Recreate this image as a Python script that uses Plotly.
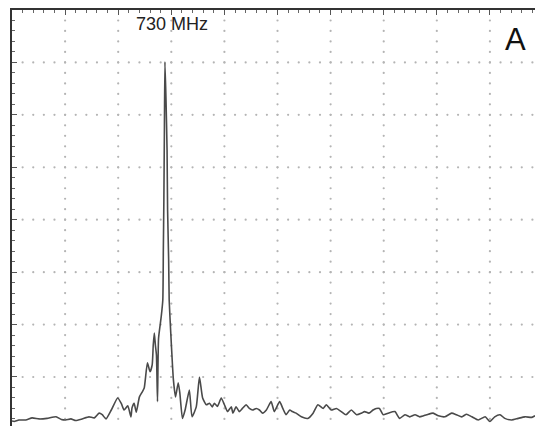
import numpy as np
import plotly.graph_objects as go

# Spectrum trace, in screen divisions (10 horizontal x 8 vertical)
freq_div = [0, 0.04, 0.13, 0.26, 0.38, 0.51, 0.66, 0.83, 0.93, 1.01, 1.11, 1.20, 1.32, 1.45,
            1.55, 1.64, 1.70, 1.77, 1.87, 1.99, 2.06, 2.11, 2.18, 2.24, 2.26, 2.30, 2.34, 2.40,
            2.45, 2.49, 2.55, 2.60, 2.64, 2.66, 2.68, 2.70, 2.72, 2.74, 2.76, 2.81, 2.84, 2.85,
            2.86, 2.87, 2.88, 2.90, 2.92, 2.93, 2.95, 2.96, 2.99, 3.04, 3.08, 3.13, 3.16, 3.21,
            3.26, 3.34, 3.39, 3.47, 3.53,
            3.59, 3.66, 3.72, 3.77, 3.81, 3.87, 3.94, 4.00, 4.06, 4.13, 4.16, 4.22, 4.28, 4.34,
            4.41, 4.47, 4.53, 4.60, 4.66, 4.72, 4.79, 4.88, 4.94, 5.04, 5.10, 5.16, 5.23, 5.28,
            5.35, 5.45, 5.57, 5.67, 5.76, 5.86, 5.92, 6.01, 6.11, 6.20, 6.29, 6.39, 6.49, 6.58,
            6.64, 6.72, 6.80, 6.86, 6.92, 6.99, 7.08, 7.21, 7.30, 7.40, 7.49, 7.59, 7.68, 7.81,
            7.93, 8.03, 8.15, 8.28, 8.37, 8.47, 8.56, 8.66, 8.78, 8.91, 9.00, 9.09, 9.19, 9.28,
            9.41, 9.53, 9.66, 9.79, 9.85]
level_div = [0.16, 0.15, 0.18, 0.18, 0.22, 0.20, 0.21, 0.24, 0.19, 0.18, 0.20, 0.17, 0.20, 0.24,
             0.22, 0.31, 0.28, 0.20, 0.37, 0.60, 0.49, 0.37, 0.45, 0.24, 0.41, 0.50, 0.33, 0.62,
             0.71, 0.79, 1.27, 1.10, 1.23, 1.61, 1.84, 1.61, 1.42, 0.53, 1.74, 2.15, 2.47, 3.42,
             4.38, 5.71, 7.01, 6.29, 5.33, 4.19, 3.23, 2.47, 1.84, 0.94, 0.62, 0.89, 0.70, 0.21,
             0.37, 0.75, 0.24, 0.43, 1.00,
             0.60, 0.47, 0.50, 0.43, 0.50, 0.44, 0.60, 0.47, 0.34, 0.43, 0.31, 0.43, 0.34, 0.40,
             0.47, 0.40, 0.37, 0.40, 0.37, 0.31, 0.37, 0.53, 0.34, 0.53, 0.40, 0.28, 0.37, 0.34,
             0.31, 0.24, 0.21, 0.31, 0.47, 0.40, 0.47, 0.37, 0.40, 0.34, 0.28, 0.37, 0.28, 0.31,
             0.34, 0.31, 0.37, 0.40, 0.40, 0.28, 0.31, 0.34, 0.21, 0.28, 0.24, 0.28, 0.24, 0.28,
             0.31, 0.26, 0.24, 0.31, 0.28, 0.24, 0.29, 0.24, 0.18, 0.24, 0.15, 0.24, 0.28, 0.21,
             0.18, 0.21, 0.24, 0.23, 0.26]

peak_label = "730 MHz"
panel_label = "A"

X_MAX = 9.849
Y_MIN, Y_MAX = 0.065, 8.0

fig = go.Figure()

# Dotted graticule: dots every 1/5 division along each major line
gx, gy = [], []
for xv in range(1, 10):
    ys = np.arange(0.2, 8.0, 0.2)
    gx += [xv] * len(ys)
    gy += list(ys)
for yv in range(1, 8):
    xs = np.arange(0.2, X_MAX, 0.2)
    gx += list(xs)
    gy += [yv] * len(xs)
fig.add_trace(go.Scatter(x=gx, y=gy, mode="markers",
                         marker=dict(size=2.2, color="#b4b4b4", symbol="circle"),
                         hoverinfo="skip", showlegend=False))

fig.add_trace(go.Scatter(x=freq_div, y=level_div, mode="lines",
                         line=dict(color="#4a4a4a", width=1.6, shape="spline", smoothing=0.5),
                         showlegend=False))

axis_common = dict(showgrid=False, zeroline=False, showticklabels=False,
                   showline=True, linecolor="#333333", linewidth=1.6,
                   ticks="inside", ticklen=5, tickcolor="#555555", tickwidth=1,
                   dtick=1, tick0=0,
                   minor=dict(ticks="inside", ticklen=3, dtick=0.2, tick0=0,
                              tickcolor="#666666", tickwidth=1, showgrid=False))

fig.update_xaxes(range=[0, X_MAX], side="top", **axis_common)
fig.update_yaxes(range=[Y_MIN, Y_MAX], side="left", **axis_common)

fig.add_annotation(x=3.01, y=7.73, xref="x", yref="y", text=peak_label, showarrow=False,
                   font=dict(family="Liberation Sans, Arial", size=18, color="#222222"))
fig.add_annotation(x=9.485, y=7.43, xref="x", yref="y", text=panel_label, showarrow=False,
                   font=dict(family="Liberation Sans, Arial", size=31, color="#111111"))

fig.update_layout(width=535, height=426,
                  margin=dict(l=12, r=0, t=10, b=0),
                  paper_bgcolor="white", plot_bgcolor="white")

fig.write_html("out.html")
